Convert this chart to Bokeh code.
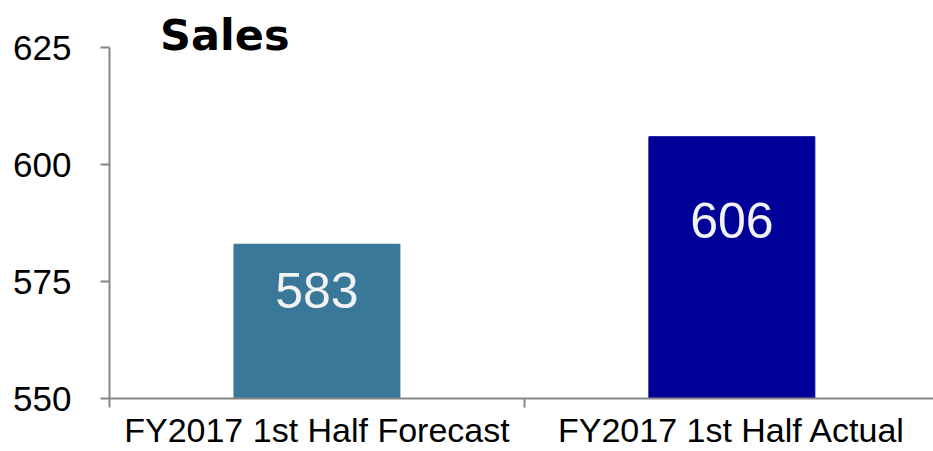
from bokeh.plotting import figure
from bokeh.models import Range1d, FixedTicker, Label, ColumnDataSource
from bokeh.core.properties import value
from bokeh.embed import file_html
from bokeh.resources import INLINE

# ---- data ----
categories = ["FY2017 1st Half Forecast", "FY2017 1st Half Actual"]
sales = [583, 606]
y_ticks = [550, 575, 600, 625]
title_text = "Sales"

# ---- styles ----
bar_colors = ["#3A7899", "#000099"]
label_offsets_px = [46, 84]
FONT = "Liberation Sans"
AXIS_COLOR = "#868686"

x_centers = [i + 0.5 for i in range(len(categories))]
boundaries = [float(i) for i in range(len(categories) + 1)]

p = figure(
    width=933, height=451,
    x_range=Range1d(0, 1.986), y_range=Range1d(y_ticks[0], 633.0),
    output_backend="svg", toolbar_location=None,
    min_border_left=109, min_border_top=10, min_border_right=0, min_border_bottom=0,
)
p.outline_line_color = None
p.grid.visible = False
p.background_fill_color = "white"
p.border_fill_color = "white"

src = ColumnDataSource(dict(
    x=x_centers, top=sales, color=bar_colors,
    label=[str(v) for v in sales], off=label_offsets_px,
))
p.vbar(x="x", top="top", bottom=y_ticks[0], width=0.4, color="color", source=src)
p.text(x="x", y="top", text="label", y_offset="off", source=src,
       text_align="center", text_baseline="middle",
       text_color="#F2F2F2", text_font=value(FONT), text_font_size="50px")

# y axis
ya = p.yaxis[0]
ya.ticker = FixedTicker(ticks=y_ticks, minor_ticks=[])
ya.bounds = (y_ticks[0], y_ticks[-1])
ya.axis_line_color = AXIS_COLOR
ya.axis_line_width = 2
ya.major_tick_line_color = AXIS_COLOR
ya.major_tick_line_width = 2
ya.major_tick_out = 9
ya.major_tick_in = 0
ya.minor_tick_line_color = None
ya.major_label_text_font = FONT
ya.major_label_text_font_size = "35px"
ya.major_label_text_color = "black"
ya.major_label_standoff = 29

# x axis: labels at category centers, ticks at category boundaries
xa = p.xaxis[0]
xa.ticker = FixedTicker(ticks=x_centers, minor_ticks=boundaries)
xa.major_label_overrides = {x: c for x, c in zip(x_centers, categories)}
xa.axis_line_color = AXIS_COLOR
xa.axis_line_width = 2
xa.major_tick_line_color = None
xa.major_tick_out = 0
xa.major_tick_in = 0
xa.minor_tick_line_color = AXIS_COLOR
xa.minor_tick_line_width = 2
xa.minor_tick_out = 9
xa.minor_tick_in = 0
xa.major_label_text_font = FONT
xa.major_label_text_font_size = "34px"
xa.major_label_text_color = "black"
xa.major_label_standoff = 3

p.add_layout(Label(x=0.122, y=y_ticks[-1], text=title_text, text_font="DejaVu Sans",
                   text_font_style="bold", text_font_size="43px", text_color="black",
                   text_baseline="alphabetic", y_offset=13))

open("out.html", "w").write(file_html(p, INLINE))
